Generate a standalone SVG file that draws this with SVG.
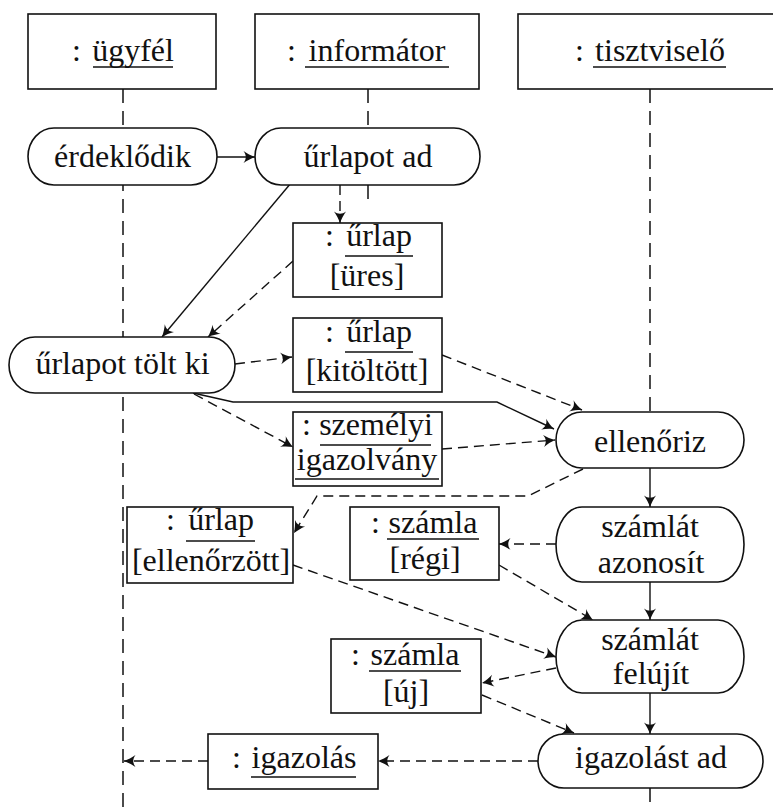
<svg xmlns="http://www.w3.org/2000/svg" width="773" height="807" viewBox="0 0 773 807" font-family="'Liberation Serif', 'DejaVu Serif', serif">
  <style>
    text { font-family: 'Liberation Serif', 'DejaVu Serif', serif; font-size: 32px; fill: #111; }
    .c { text-anchor: middle; }
    .box { fill: #fff; stroke: #111; stroke-width: 1.6; }
    .act { fill: #fff; stroke: #111; stroke-width: 1.6; }
    .ul { stroke: #111; stroke-width: 1.5; }
    .life { fill: none; stroke: #111; stroke-width: 1.5; stroke-dasharray: 14 8; }
    .flow { fill: none; stroke: #111; stroke-width: 1.4; marker-end: url(#ah); }
    .obj { fill: none; stroke: #111; stroke-width: 1.4; stroke-dasharray: 10 6; marker-end: url(#ah); }
  </style>
  <defs>
    <marker id="ah" viewBox="-12 -7 13 14" refX="0" refY="0" markerWidth="13" markerHeight="14" markerUnits="userSpaceOnUse" orient="auto">
      <path d="M0,0 C-4,-1.5 -8,-3.5 -11.5,-6 C-8.5,-2 -8.5,2 -11.5,6 C-8,3.5 -4,1.5 0,0 Z" fill="#111"/>
    </marker>
  </defs>
  <rect width="773" height="807" fill="#fff"/>

  <!-- lifelines -->
  <g id="lifelines">
    <path class="life" d="M123,89 V807"/>
    <path class="life" d="M368,89 V128 M368,185 V201"/>
    <path class="life" d="M650,89 V412 M650,788 V807"/>
  </g>

  <!-- connectors -->
  <g id="connectors">
    <path class="flow" d="M217,157 H255"/>
    <path class="obj" d="M340,185 V223"/>
    <path class="flow" d="M291,183 L162,337"/>
    <path class="obj" d="M293,261 L208,337"/>
    <path class="obj" d="M235,364 L292,357"/>
    <path class="flow" d="M193,393 L233,402 H497 L554,429"/>
    <path class="obj" d="M194,394 L293,447"/>
    <path class="obj" d="M442,355 L582,410"/>
    <path class="obj" d="M442,449 L555,440"/>
    <path class="flow" d="M650,468 V507"/>
    <path class="obj" d="M583,469 L528,496 H317 L294,533"/>
    <path class="obj" d="M556,544 H499"/>
    <path class="obj" d="M293,565 L556,657"/>
    <path class="obj" d="M499,565 L593,620"/>
    <path class="flow" d="M650,582 V620"/>
    <path class="obj" d="M556,668 L482,683"/>
    <path class="obj" d="M482,695 L574,733"/>
    <path class="flow" d="M650,693 V734"/>
    <path class="obj" d="M538,761 H378"/>
    <path class="obj" d="M208,761 H124"/>
  </g>

  <!-- lifeline heads -->
  <g id="ugyfel">
    <rect class="box" x="28" y="14" width="188" height="75"/>
    <text y="61"><tspan x="72">:</tspan><tspan x="133" class="c">ügyfél</tspan></text>
    <line class="ul" x1="93" y1="67" x2="173" y2="67"/>
  </g>
  <g id="informator">
    <rect class="box" x="255" y="14" width="224" height="75"/>
    <text y="61"><tspan x="287">:</tspan><tspan x="377" class="c">informátor</tspan></text>
    <line class="ul" x1="305" y1="67" x2="449" y2="67"/>
  </g>
  <g id="tisztviselo">
    <rect class="box" x="518" y="14" width="270" height="75"/>
    <text y="61"><tspan x="575">:</tspan><tspan x="660" class="c">tisztviselő</tspan></text>
    <line class="ul" x1="593" y1="67" x2="726" y2="67"/>
  </g>

  <!-- activities -->
  <g id="erdeklodik">
    <rect class="act" x="28" y="128" width="189" height="57" rx="26" ry="28.5"/>
    <text class="c" x="122.5" y="167">érdeklődik</text>
  </g>
  <g id="urlapot-ad">
    <rect class="act" x="255" y="128" width="225" height="57" rx="26" ry="28.5"/>
    <text class="c" x="368" y="167">űrlapot ad</text>
  </g>
  <g id="urlapot-tolt-ki">
    <rect class="act" x="9" y="337" width="226" height="56" rx="26" ry="28"/>
    <text class="c" x="122.5" y="374">űrlapot tölt ki</text>
  </g>
  <g id="ellenoriz">
    <rect class="act" x="556" y="412" width="188" height="56" rx="26" ry="28"/>
    <text class="c" x="650" y="452">ellenőriz</text>
  </g>
  <g id="szamlat-azonosit">
    <rect class="act" x="556" y="507" width="188" height="75" rx="26" ry="37.5"/>
    <text class="c" x="650" y="537">számlát</text>
    <text class="c" x="651" y="573">azonosít</text>
  </g>
  <g id="szamlat-felujit">
    <rect class="act" x="556" y="620" width="188" height="73" rx="26" ry="36.5"/>
    <text class="c" x="650" y="650">számlát</text>
    <text class="c" x="651" y="684">felújít</text>
  </g>
  <g id="igazolast-ad">
    <rect class="act" x="538" y="734" width="225" height="54" rx="26" ry="27"/>
    <text class="c" x="651" y="768">igazolást ad</text>
  </g>

  <!-- object flows -->
  <g id="urlap-ures">
    <rect class="box" x="293" y="223" width="149" height="74"/>
    <text y="246"><tspan x="325">:</tspan><tspan x="379" class="c">űrlap</tspan></text>
    <line class="ul" x1="345" y1="256" x2="413" y2="256"/>
    <text class="c" x="367" y="286">[üres]</text>
  </g>
  <g id="urlap-kitoltott">
    <rect class="box" x="293" y="318" width="149" height="74"/>
    <text y="342"><tspan x="325">:</tspan><tspan x="379" class="c">űrlap</tspan></text>
    <line class="ul" x1="345" y1="352" x2="413" y2="352"/>
    <text class="c" x="367" y="381">[kitöltött]</text>
  </g>
  <g id="szemelyi-igazolvany">
    <rect class="box" x="293" y="412" width="149" height="74"/>
    <text y="435"><tspan x="302">:</tspan><tspan x="376" class="c">személyi</tspan></text>
    <line class="ul" x1="320" y1="445" x2="431" y2="445"/>
    <text class="c" x="367" y="470">igazolvány</text>
    <line class="ul" x1="295" y1="479" x2="439" y2="479"/>
  </g>
  <g id="urlap-ellenorzott">
    <rect class="box" x="127" y="507" width="166" height="76"/>
    <text y="530"><tspan x="166">:</tspan><tspan x="221" class="c">űrlap</tspan></text>
    <line class="ul" x1="186" y1="541" x2="255" y2="541"/>
    <text class="c" x="211" y="571">[ellenőrzött]</text>
  </g>
  <g id="szamla-regi">
    <rect class="box" x="350" y="507" width="149" height="73"/>
    <text y="533"><tspan x="371">:</tspan><tspan x="433" class="c">számla</tspan></text>
    <line class="ul" x1="387" y1="539" x2="479" y2="539"/>
    <text class="c" x="425" y="569">[régi]</text>
  </g>
  <g id="szamla-uj">
    <rect class="box" x="331" y="639" width="150" height="74"/>
    <text y="665"><tspan x="351">:</tspan><tspan x="415" class="c">számla</tspan></text>
    <line class="ul" x1="369" y1="671" x2="461" y2="671"/>
    <text class="c" x="406" y="702">[új]</text>
  </g>
  <g id="igazolas">
    <rect class="box" x="208" y="734" width="170" height="55"/>
    <text y="768"><tspan x="232">:</tspan><tspan x="304" class="c">igazolás</tspan></text>
    <line class="ul" x1="251" y1="777" x2="356" y2="777"/>
  </g>
</svg>
